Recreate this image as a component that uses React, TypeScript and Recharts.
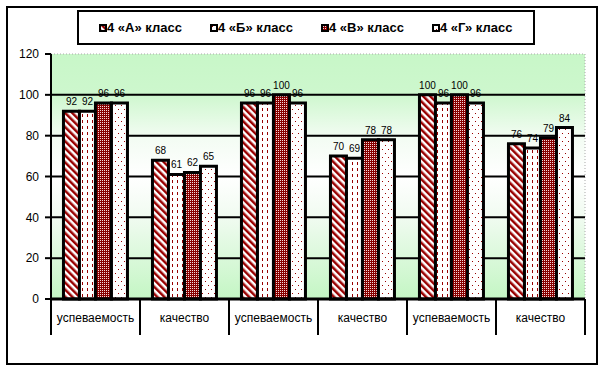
import React from "react";
import { BarChart, Bar, XAxis, YAxis, CartesianGrid, LabelList } from "recharts";

const categories = ["успеваемость", "качество", "успеваемость", "качество", "успеваемость", "качество"];
const classA = [92, 68, 96, 70, 100, 76];
const classB = [92, 61, 96, 69, 96, 74];
const classV = [96, 62, 100, 78, 100, 79];
const classG = [96, 65, 96, 78, 96, 84];
const seriesNames = ["4 «А» класс", "4 «Б» класс", "4 «В» класс", "4 «Г» класс"];
const yTicks = [0, 20, 40, 60, 80, 100, 120];
const gridValues = [20, 40, 60, 80, 100];

const seriesKeys = ["a", "b", "v", "g"];
const seriesValues = [classA, classB, classV, classG];

const data = categories.map((name, i) => ({
  id: i,
  name,
  a: classA[i],
  b: classB[i],
  v: classV[i],
  g: classG[i],
}));

const RED = "#990000";
const W = 601;
const H = 368;
const MARGIN = { top: 54, right: 16, left: 10, bottom: 29 };
const Y_AXIS_W = 41;
const PLOT_W = W - MARGIN.left - MARGIN.right - Y_AXIS_W;
const HALF_BAND = PLOT_W / categories.length / 2;
const FONT = "'Liberation Sans', Arial, sans-serif";

const PatternDefs = ({ prefix }: { prefix: string }) => (
  <defs>
    <pattern id={`${prefix}-a`} width="5" height="5" patternUnits="userSpaceOnUse" patternTransform="rotate(-45)">
      <rect width="5" height="5" fill="#fff" />
      <rect width="2.5" height="5" fill={RED} />
    </pattern>
    <pattern id={`${prefix}-b`} width="5" height="6" patternUnits="userSpaceOnUse">
      <rect width="5" height="6" fill="#fff" />
      <rect x="2" y="0" width="1" height="3" fill={RED} />
    </pattern>
    <pattern id={`${prefix}-v`} width="2" height="2" patternUnits="userSpaceOnUse">
      <rect width="2" height="2" fill="#880000" />
      <rect x="0" y="0" width="1" height="1" fill="#f2dada" />
    </pattern>
    <pattern id={`${prefix}-g`} width="6" height="8" patternUnits="userSpaceOnUse">
      <rect width="6" height="8" fill="#fff" />
      <rect x="1" y="1" width="1" height="1" fill={RED} />
      <rect x="4" y="5" width="1" height="1" fill={RED} />
    </pattern>
  </defs>
);

const XTick = (props: any) => {
  const { x, y, payload, index } = props;
  const isLast = index === categories.length - 1;
  return (
    <g>
      <line x1={x - HALF_BAND} x2={x - HALF_BAND} y1={y} y2={y + 36} stroke="#000" strokeWidth={2} />
      {isLast && <line x1={x + HALF_BAND} x2={x + HALF_BAND} y1={y} y2={y + 36} stroke="#000" strokeWidth={2} />}
      <text x={x} y={y + 23} textAnchor="middle" fontSize={12} fontFamily={FONT} fill="#000">
        {categories[payload.value]}
      </text>
    </g>
  );
};

export default function App() {
  return (
    <div style={{ position: "absolute", left: 0, top: 0, width: W, height: H, background: "#fff" }}>
      <div
        style={{
          position: "absolute",
          left: 6,
          top: 6,
          width: 588,
          height: 355,
          border: "2px solid #000",
        }}
      />
      <BarChart
        width={W}
        height={H}
        data={data}
        margin={MARGIN}
        barCategoryGap="14%"
        barGap={0}
        style={{ position: "absolute", left: 0, top: 0 }}
      >
        <PatternDefs prefix="pt" />
        <defs>
          <linearGradient id="bgGrad" x1="0" y1="0" x2="0" y2="1">
            <stop offset="0" stopColor="#c8f7c8" />
            <stop offset="0.16" stopColor="#cdf7cd" />
            <stop offset="0.34" stopColor="#f3fcf3" />
            <stop offset="0.5" stopColor="#ffffff" />
            <stop offset="0.66" stopColor="#f1fbf1" />
            <stop offset="1" stopColor="#c4f6c4" />
          </linearGradient>
        </defs>
        <CartesianGrid
          fill="url(#bgGrad)"
          stroke="#aaa"
          strokeDasharray="1 2"
          horizontalValues={[120]}
          verticalCoordinatesGenerator={({ offset }: any) => [offset.left + offset.width]}
        />
        <CartesianGrid stroke="#000" strokeWidth={2} vertical={false} horizontalValues={gridValues} />
        <XAxis
          dataKey="id"
          type="category"
          axisLine={{ stroke: "#000", strokeWidth: 3 }}
          tickLine={false}
          tickSize={0}
          tickMargin={0}
          height={40}
          interval={0}
          tick={<XTick />}
        />
        <YAxis
          domain={[0, 120]}
          ticks={yTicks}
          interval={0}
          width={Y_AXIS_W}
          axisLine={{ stroke: "#000", strokeWidth: 2 }}
          tickLine={{ stroke: "#000", strokeWidth: 2 }}
          tickSize={6}
          tickMargin={6}
          tick={{ fontSize: 12, fontFamily: FONT, fill: "#000" }}
        />
        {seriesKeys.map((k, i) => (
          <Bar
            key={k}
            dataKey={k}
            name={seriesNames[i]}
            fill={`url(#pt-${k})`}
            stroke="#000"
            strokeWidth={3}
            isAnimationActive={false}
          >
            <LabelList dataKey={k} position="top" offset={6} fontSize={10} fontFamily={FONT} fill="#000" />
          </Bar>
        ))}
      </BarChart>
      <div
        style={{
          position: "absolute",
          left: 77,
          top: 10,
          width: 454,
          height: 31,
          border: "2px solid #000",
          background: "#fff",
        }}
      >
        {seriesNames.map((n, i) => (
          <div
            key={n}
            style={{
              position: "absolute",
              left: 20 + i * 111,
              top: 0,
              height: 31,
              display: "flex",
              alignItems: "center",
              fontFamily: FONT,
              fontWeight: "bold",
              fontSize: 13,
              whiteSpace: "nowrap",
              color: "#000",
            }}
          >
            <svg width={8} height={8} style={{ display: "block", marginRight: 0 }}>
              <PatternDefs prefix={`lg${i}`} />
              <rect x={1} y={1} width={6} height={6} fill={`url(#lg${i}-${seriesKeys[i]})`} stroke="#000" strokeWidth={2} />
            </svg>
            <span>{n}</span>
          </div>
        ))}
      </div>
    </div>
  );
}
